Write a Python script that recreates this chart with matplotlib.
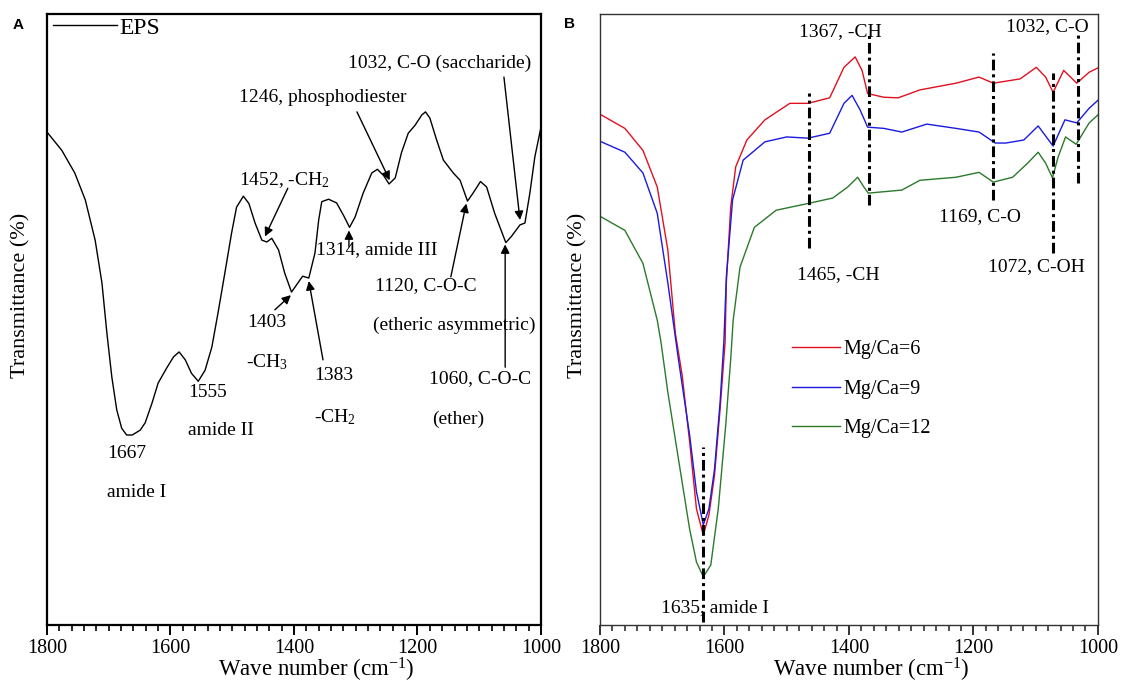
import matplotlib
matplotlib.use("Agg")
import matplotlib.pyplot as plt
from matplotlib.ticker import MultipleLocator
from matplotlib.lines import Line2D

plt.rcParams['font.family'] = ['Liberation Serif', 'DejaVu Serif']
plt.rcParams['mathtext.fontset'] = 'custom'
plt.rcParams['mathtext.rm'] = 'Liberation Serif'
plt.rcParams['mathtext.it'] = 'Liberation Serif:italic'

# ---- panel A: EPS spectrum (wave number, transmittance in arbitrary %)
eps_wn = [1800, 1776, 1755, 1738, 1722, 1711, 1703, 1695, 1687, 1679, 1671, 1662,
          1649, 1641, 1630, 1620, 1606, 1595, 1586, 1576, 1566, 1555, 1544, 1533,
          1523, 1512, 1501, 1493, 1482, 1473, 1463, 1452, 1444, 1436, 1425, 1415,
          1404, 1395, 1386, 1376, 1366, 1360, 1355, 1344, 1331, 1320, 1310, 1301,
          1288, 1274, 1265, 1255, 1246, 1236, 1226, 1215, 1204, 1193, 1187, 1180,
          1169, 1158, 1142, 1131, 1119, 1110, 1098, 1088, 1075, 1057, 1048, 1034,
          1026, 1018, 1010, 1000]
eps_t = [80.7, 77.7, 74.0, 69.6, 63.0, 56.0, 47.8, 40.6, 35.2, 32.2, 31.1, 31.1,
         31.9, 33.1, 36.3, 39.6, 42.1, 43.9, 44.7, 43.4, 41.2, 39.9, 41.7, 45.5,
         51.1, 57.6, 64.2, 68.4, 70.2, 69.0, 65.8, 63.0, 62.7, 63.3, 61.4, 57.6,
         54.5, 55.8, 57.1, 56.8, 60.9, 66.3, 69.3, 69.7, 69.1, 67.1, 65.1, 66.8,
         70.7, 74.0, 74.6, 73.6, 72.2, 73.2, 77.3, 80.5, 81.8, 83.5, 84.0, 83.0,
         79.4, 76.1, 74.0, 72.8, 69.4, 70.7, 72.6, 71.7, 67.4, 62.6, 63.6, 65.5,
         65.8, 70.7, 76.6, 81.5]

# annotations: text, text position, arrow tail, arrow tip
eps_notes = [
    ("1032, C-O (saccharide)", (1312, 92.0), (1060, 89.7), (1034, 66.3)),
    ("1246, phosphodiester", (1489, 86.3), (1298, 84.0), (1245, 72.8)),
    ("1452, -CH$_2$", (1489, 72.8), (1410, 71.5), (1447, 63.6)),
    ("1314, amide III", (1364, 61.4), (1311, 61.9), (1311, 64.6)),
    ("1120, C-O-C", (1269, 55.5), (1146, 57.0), (1121, 69.0)),
    ("1403", (1475, 49.6), (1431, 51.6), (1405, 54.0)),
    ("1383", (1368, 40.9), (1353, 43.4), (1376, 56.3)),
    ("1060, C-O-C", (1182, 40.3), (1058, 42.2), (1058, 62.3)),
]
eps_plain = [
    ("(etheric asymmetric)", (1272, 49.1)),
    ("-CH$_3$", (1478, 43.0)),
    ("-CH$_2$", (1368, 34.0)),
    ("(ether)", (1176, 33.7)),
    ("1555", (1572, 38.1)),
    ("amide II", (1572, 31.9)),
    ("1667", (1703, 28.0)),
    ("amide I", (1703, 21.7)),
]

# ---- panel B: three Mg/Ca ratios
red_wn = [1798, 1760, 1731, 1708, 1691, 1679, 1668, 1656, 1645, 1634, 1625, 1616,
          1607, 1599, 1597, 1590, 1582, 1564, 1535, 1495, 1466, 1431, 1408, 1390,
          1379, 1370, 1344, 1321, 1286, 1228, 1191, 1168, 1125, 1099, 1084, 1072,
          1055, 1034, 1014, 1000]
red_t = [83.5, 81.3, 77.7, 71.7, 61.4, 47.8, 40.9, 30.0, 19.0, 14.7, 18.0, 24.5,
         35.4, 46.3, 56.0, 68.4, 75.0, 79.4, 82.7, 85.4, 85.4, 86.3, 91.3, 93.0,
         90.8, 87.0, 86.4, 86.3, 87.6, 88.7, 89.7, 88.7, 89.4, 91.3, 89.7, 87.2,
         90.8, 88.7, 90.5, 91.2]

blue_wn = [1798, 1760, 1731, 1708, 1691, 1674, 1656, 1645, 1634, 1625, 1616, 1607,
           1601, 1597, 1587, 1570, 1535, 1500, 1466, 1431, 1408, 1395, 1382, 1370,
           1344, 1315, 1275, 1228, 1191, 1165, 1148, 1119, 1096, 1072, 1053, 1034,
           1014, 1000]
blue_t = [79.1, 77.4, 74.0, 67.4, 56.0, 43.5, 31.1, 21.8, 16.4, 19.0, 25.5, 36.5,
          46.3, 57.0, 69.6, 76.1, 79.1, 79.9, 79.7, 80.5, 85.4, 86.7, 84.3, 81.5,
          81.3, 80.7, 82.0, 81.3, 80.7, 78.9, 78.9, 79.4, 81.7, 78.4, 82.7, 82.2,
          84.6, 85.9]

green_wn = [1798, 1760, 1731, 1708, 1702, 1691, 1674, 1656, 1645, 1634, 1622, 1610,
            1598, 1590, 1586, 1575, 1552, 1517, 1466, 1426, 1402, 1386, 1376, 1369,
            1315, 1286, 1228, 1191, 1168, 1137, 1113, 1096, 1084, 1073, 1064, 1052,
            1035, 1014, 1000]
green_t = [66.8, 64.6, 59.2, 49.9, 46.3, 38.1, 27.2, 15.7, 10.3, 7.9, 9.8, 19.0,
           32.7, 43.5, 49.9, 58.6, 65.1, 67.9, 69.0, 69.9, 71.7, 73.3, 71.7, 70.7,
           71.2, 72.8, 73.3, 74.1, 72.5, 73.3, 75.6, 77.4, 75.6, 73.2, 76.6, 79.9,
           78.7, 82.2, 83.5]

series_labels = ["Mg/Ca=6", "Mg/Ca=9", "Mg/Ca=12"]
series_colors = ["#e01020", "#1a1ae0", "#2a7a2a"]

# marker lines: wave number, y from, y to
mark_wn = [1465, 1367, 1169, 1072, 1032, 1635]
mark_y0 = [61.7, 68.7, 69.6, 60.9, 72.3, 0.5]
mark_y1 = [87.1, 96.9, 93.6, 90.3, 97.1, 29.1]
mark_text = [
    ("1367, -CH", (1480, 97.1)),
    ("1032, C-O", (1148, 98.0)),
    ("1169, C-O", (1255, 66.8)),
    ("1465, -CH", (1483, 57.3)),
    ("1072, C-OH", (1177, 58.6)),
    ("1635, amide I", (1702, 2.9)),
]

fig = plt.figure(figsize=(11.24, 6.84), dpi=100)
axA = fig.add_axes([0.0418, 0.0863, 0.4395, 0.893])
axB = fig.add_axes([0.5338, 0.0863, 0.443, 0.893])


def style_axis(ax, spine_lw, spine_color):
    ax.set_xlim(1800, 1000)
    ax.set_ylim(0, 100)
    ax.xaxis.set_major_locator(MultipleLocator(200))
    ax.xaxis.set_minor_locator(MultipleLocator(20))
    ax.set_yticks([])
    ax.tick_params(axis='x', which='major', direction='out', length=7, width=1.4,
                   labelsize=14.5, pad=3, color=spine_color)
    ax.tick_params(axis='x', which='minor', direction='out', length=4, width=1.2,
                   color=spine_color)
    for s in ax.spines.values():
        s.set_linewidth(spine_lw)
        s.set_color(spine_color)
    ax.set_xlabel("Wave number (cm$^{-1}$)", fontsize=16.5, va='center')
    ax.xaxis.set_label_coords(0.545, -0.074)
    ax.set_ylabel("Transmittance (%)", fontsize=16, va='center')


# panel A
style_axis(axA, 1.6, 'black')
axA.yaxis.set_label_coords(-0.053, 0.54)
axA.plot(eps_wn, eps_t, color='black', lw=1.0, solid_joinstyle='round')
axA.legend([Line2D([], [], color='black', lw=1.0)], ["EPS"], loc='upper left',
           bbox_to_anchor=(0.012, 0.995), frameon=False, fontsize=17,
           handlelength=2.7, handletextpad=0.1, borderpad=0, borderaxespad=0)
for txt, pos, tail, tip in eps_notes:
    axA.text(pos[0], pos[1], txt, fontsize=14, ha='left', va='center')
    axA.annotate("", xy=tip, xytext=tail,
                 arrowprops=dict(arrowstyle='-|>', color='black', lw=1.0,
                                 mutation_scale=13, shrinkA=0, shrinkB=0))
for txt, pos in eps_plain:
    axA.text(pos[0], pos[1], txt, fontsize=14, ha='left', va='center')

# panel B
style_axis(axB, 1.0, '#333333')
axB.yaxis.set_label_coords(-0.044, 0.54)
for wn, t, lab, col in zip([red_wn, blue_wn, green_wn], [red_t, blue_t, green_t],
                           series_labels, series_colors):
    axB.plot(wn, t, color=col, lw=1.0, label=lab, solid_joinstyle='round')
for wn, y0, y1 in zip(mark_wn, mark_y0, mark_y1):
    axB.plot([wn, wn], [y0, y1], color='black', lw=2.2,
             linestyle=(0, (3.5, 1.3, 1, 1.3)), zorder=3)
for txt, pos in mark_text:
    axB.text(pos[0], pos[1], txt, fontsize=14, ha='left', va='center')
axB.legend(loc='upper left', bbox_to_anchor=(0.385, 0.466), frameon=False,
           fontsize=14.5, handlelength=2.4, handletextpad=0.15, labelspacing=1.0,
           borderpad=0, borderaxespad=0)

fig.text(0.016, 0.963, "A", fontsize=11, fontweight='bold', family='Liberation Sans',
         ha='center', va='center')
fig.text(0.507, 0.965, "B", fontsize=11, fontweight='bold', family='Liberation Sans',
         ha='center', va='center')

fig.savefig("out.png", dpi=100)
